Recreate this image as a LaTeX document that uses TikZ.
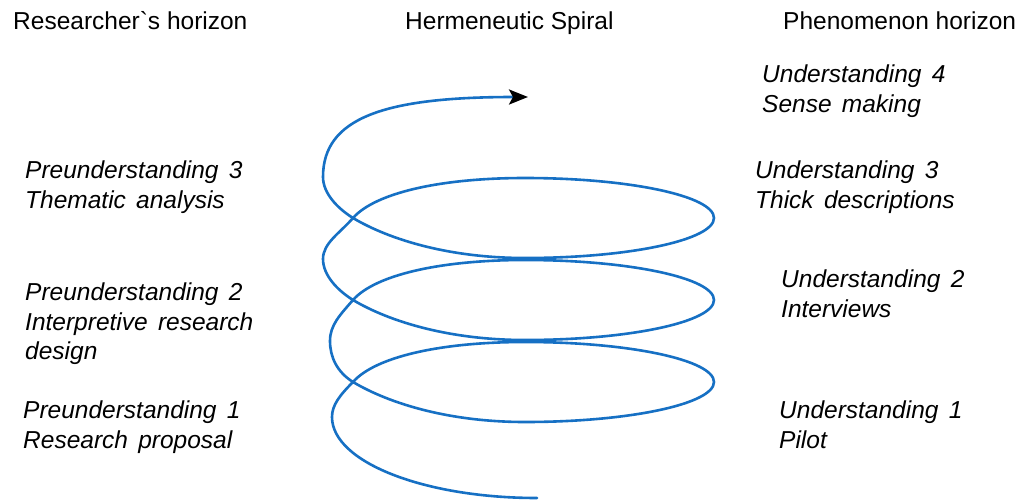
\documentclass[tikz,border=0pt]{standalone}
\usepackage{fontspec}
\setmainfont{Liberation Sans}[Ligatures=TeXOff]
\usetikzlibrary{arrows.meta}
\definecolor{spiralblue}{RGB}{22,112,196}
\newcommand{\mylblfont}{\fontsize{24.5}{29.5}\selectfont\itshape\spaceskip=0.42em plus 0.1em\relax}
\begin{document}
\begin{tikzpicture}[x=1pt,y=-1pt,
  title/.style={anchor=base west,inner sep=0pt,font=\fontsize{24.5}{28}\selectfont},
  lbl/.style={anchor=north west,inner sep=0pt,align=left,font=\mylblfont},
  spiral/.style={draw=spiralblue,line width=2.6pt,line cap=round,line join=round}]
\path[fill=white] (0,0) rectangle (1021,501);
\useasboundingbox (0,0) rectangle (1021,501);
% headings
\node[title] (rh) at (13,29) {Researcher\symbol{96}s horizon};
\node[title] (hs) at (405,29) {Hermeneutic Spiral};
\node[title] (ph) at (783,29) {Phenomenon horizon};
% labels
\node[lbl] (u4) at (762,65) {Understanding 4\\Sense making};
\node[lbl] (p3) at (25,161) {Preunderstanding 3\\Thematic analysis};
\node[lbl] (u3) at (755,161) {Understanding 3\\Thick descriptions};
\node[lbl] (p2) at (25,283) {Preunderstanding 2\\Interpretive research\\design};
\node[lbl] (u2) at (781,270) {Understanding 2\\Interviews};
\node[lbl] (p1) at (23,401) {Preunderstanding 1\\Research proposal};
\node[lbl] (u1) at (779,401) {Understanding 1\\Pilot};
% spiral
\coordinate (sstart) at (537,498);
\coordinate (send) at (528,97);
\draw[spiral,-{Stealth[length=19pt,width=15pt,inset=4pt,black]}] (sstart)
  .. controls (424,498) and (332,462) .. (332,417)
  .. controls (332,405) and (340,395) .. (353,382)
  % turn 1 (yc=382)
  .. controls (375,357) and (440,342) .. (525,342)
  .. controls (629,342) and (714,360) .. (714,382)
  .. controls (714,404) and (629,422) .. (525,422)
  .. controls (450,422) and (390,404) .. (353,382)
  .. controls (337,372) and (330,357) .. (330,341)
  .. controls (330,325) and (340,315) .. (353,300)
  % turn 2 (yc=300)
  .. controls (375,275) and (440,260) .. (525,260)
  .. controls (629,260) and (714,278) .. (714,300)
  .. controls (714,322) and (629,340) .. (525,340)
  .. controls (450,340) and (390,322) .. (353,300)
  .. controls (337,290) and (323,275) .. (323,259)
  .. controls (323,243) and (340,233) .. (353,218)
  % turn 3 (yc=218)
  .. controls (375,193) and (440,178) .. (525,178)
  .. controls (629,178) and (714,196) .. (714,218)
  .. controls (714,240) and (629,258) .. (525,258)
  .. controls (450,258) and (390,240) .. (353,218)
  .. controls (337,208) and (323,193) .. (323,177)
  % final arc
  .. controls (323,118) and (384,97) .. (send);
\end{tikzpicture}
\end{document}
